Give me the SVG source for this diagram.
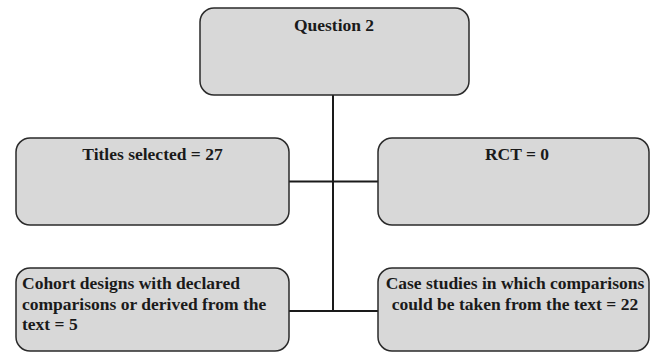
<svg xmlns="http://www.w3.org/2000/svg" width="656" height="354" viewBox="0 0 656 354">
<style>
.box{fill:#d8d8d8;stroke:#2a2a2a;stroke-width:1.5}
.t{font-family:"Liberation Serif","Times New Roman",serif;font-weight:bold;fill:#1a1a1a;font-size:17.5px}
.c{text-anchor:middle}
.line{stroke:#1a1a1a;stroke-width:2;fill:none}
</style>
<rect width="656" height="354" fill="#ffffff"/>
<g id="connectors">
<line class="line" x1="333" y1="95" x2="333" y2="311"/>
<line class="line" x1="289" y1="181.5" x2="378" y2="181.5"/>
<line class="line" x1="289" y1="311" x2="378" y2="311"/>
</g>
<g id="question2">
<rect class="box" x="200" y="8" width="269" height="87" rx="14"/>
<text class="t c" x="334" y="31">Question 2</text>
</g>
<g id="titles">
<rect class="box" x="16" y="138" width="273" height="87" rx="14"/>
<text class="t c" x="152.5" y="160">Titles selected = 27</text>
</g>
<g id="rct">
<rect class="box" x="378" y="138" width="271" height="87" rx="14"/>
<text class="t c" x="517" y="160">RCT = 0</text>
</g>
<g id="cohort">
<rect class="box" x="16" y="268" width="273" height="83" rx="14"/>
<text class="t" x="22" y="289">Cohort designs with declared</text>
<text class="t" x="22" y="310">comparisons or derived from the</text>
<text class="t" x="22" y="330">text = 5</text>
</g>
<g id="case">
<rect class="box" x="378" y="268" width="271" height="83" rx="14"/>
<text class="t c" x="515" y="289">Case studies in which comparisons</text>
<text class="t c" x="515" y="310">could be taken from the text = 22</text>
</g>
</svg>
